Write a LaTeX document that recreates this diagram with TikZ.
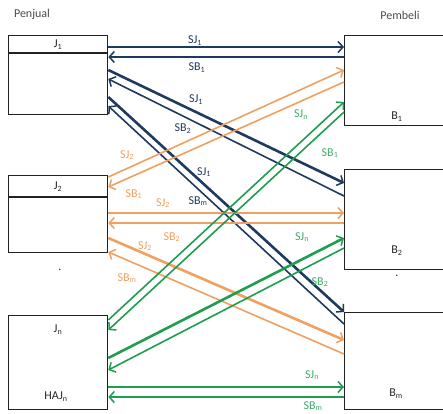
\documentclass[tikz,border=0pt]{standalone}
\usepackage{fontspec}
\setmainfont{Carlito}
\usetikzlibrary{arrows.meta}
\definecolor{navy}{HTML}{1F3A5F}
\definecolor{orng}{HTML}{F0A060}
\definecolor{grn}{HTML}{1E9E4E}
\definecolor{boxc}{HTML}{222222}
\newcommand{\sub}[1]{\textsubscript{#1}}
\tikzset{
  box/.style={draw=boxc, line width=1.3pt, inner sep=0pt, anchor=north west},
  tip/.style={-{Straight Barb[length=5pt,width=11pt,line width=1.5pt]}},
  nv/.style={draw=navy, line width=1.6pt, tip},
  nvthick/.style={draw=navy, line width=2.6pt, tip},
  og/.style={draw=orng, line width=1.6pt, tip},
  ogthick/.style={draw=orng, line width=2.6pt, tip},
  gn/.style={draw=grn, line width=1.6pt, tip},
  gnthick/.style={draw=grn, line width=2.6pt, tip},
  lbl/.style={font=\fontsize{12}{13}\selectfont, inner sep=0pt},
  nvl/.style={lbl, text=navy},
  ogl/.style={lbl, text=orng},
  gnl/.style={lbl, text=grn!85!white},
  head/.style={font=\fontsize{12}{13}\selectfont, text=black!70, inner sep=0pt},
  boxlbl/.style={font=\fontsize{12}{13}\selectfont, text=black!85, inner sep=0pt}
}
\begin{document}
\begin{tikzpicture}[x=1pt,y=-1pt]
\useasboundingbox[fill=white] (0,0) rectangle (443,413);
% headings
\node[head] (hp) at (32,14) {Penjual};
\node[head] (hb) at (400,15) {Pembeli};
% seller boxes
\node[box, minimum width=99pt, minimum height=79pt] (J1) at (8,35) {};
\draw[boxc, line width=1.3pt] (J1.west |- 0,53) -- (J1.east |- 0,53);
\node[boxlbl] (tJ1) at (58,45) {J\sub{1}};
\node[box, minimum width=99pt, minimum height=77pt] (J2) at (8,175) {};
\draw[boxc, line width=1.3pt] (J2.west |- 0,197) -- (J2.east |- 0,197);
\node[boxlbl] (tJ2) at (58,187) {J\sub{2}};
\node[boxlbl] (dotl) at (60,270) {.};
\node[box, minimum width=99pt, minimum height=94pt] (Jn) at (8,315) {};
\node[boxlbl] (tJn) at (58,330) {J\sub{n}};
\node[boxlbl] (tHAJ) at (56,397) {HAJ\sub{n}};
% buyer boxes
\node[box, minimum width=104pt, minimum height=90pt] (B1) at (344,35) {};
\node[boxlbl] (tB1) at (397,117) {B\sub{1}};
\node[box, minimum width=104pt, minimum height=100pt] (B2) at (344,169) {};
\node[boxlbl] (tB2) at (397,251) {B\sub{2}};
\node[boxlbl] (dotr) at (397,276) {.};
\node[box, minimum width=104pt, minimum height=97pt] (Bm) at (344,312) {};
\node[boxlbl] (tBm) at (396,394) {B\sub{m}};
% navy connectors (J1)
\draw[nv] (J1.east |- 0,47) -- (B1.west |- 0,47);
\draw[nvthick] (B1.west |- 0,57) -- (J1.east |- 0,57);
\node[nvl] at (195,41) {SJ\sub{1}};
\node[nvl] at (197,68) {SB\sub{1}};
\draw[nvthick] (J1.east |- 0,70) -- (B2.west |- 0,183);
\draw[nv] (B2.west |- 0,196) -- (J1.east |- 0,79);
\node[nvl] at (196,100) {SJ\sub{1}};
\node[nvl] at (183,129) {SB\sub{2}};
\draw[nvthick] (J1.east |- 0,97) -- (Bm.west |- 0,312);
\draw[nv] (Bm.west |- 0,324) -- (J1.east |- 0,106);
\node[nvl] at (204,172) {SJ\sub{1}};
\node[nvl] at (198,201) {SB\sub{m}};
% orange connectors (J2)
\draw[og] (J2.east |- 0,177) -- (B1.west |- 0,70);
\draw[og] (B1.west |- 0,82) -- (J2.east |- 0,187);
\node[ogl] at (127,155) {SJ\sub{2}};
\node[ogl] at (134,194) {SB\sub{1}};
\draw[og] (J2.east |- 0,213) -- (B2.west |- 0,213);
\draw[ogthick] (B2.west |- 0,223) -- (J2.east |- 0,223);
\node[ogl] at (163,203) {SJ\sub{2}};
\node[ogl] at (172,237) {SB\sub{2}};
\draw[ogthick] (J2.east |- 0,238) -- (Bm.west |- 0,340);
\draw[og] (Bm.west |- 0,354) -- (J2.east |- 0,252);
\node[ogl] at (145,246) {SJ\sub{2}};
\node[ogl] at (127,278) {SB\sub{m}};
% green connectors (Jn)
\draw[gn] (Jn.east |- 0,320) -- (B1.west |- 0,102);
\draw[gn] (B1.west |- 0,112) -- (Jn.east |- 0,330);
\node[gnl] at (301,115) {SJ\sub{n}};
\node[gnl] at (330,153) {SB\sub{1}};
\draw[gnthick] (Jn.east |- 0,358) -- (B2.west |- 0,238);
\draw[gn] (B2.west |- 0,248) -- (Jn.east |- 0,370);
\node[gnl] at (302,237) {SJ\sub{n}};
\node[gnl] at (320,282) {SB\sub{2}};
\draw[gnthick] (Jn.east |- 0,387) -- (Bm.west |- 0,387);
\draw[gnthick] (Bm.west |- 0,397) -- (Jn.east |- 0,397);
\node[gnl] at (312,375) {SJ\sub{n}};
\node[gnl] at (313,406) {SB\sub{m}};
\end{tikzpicture}
\end{document}
